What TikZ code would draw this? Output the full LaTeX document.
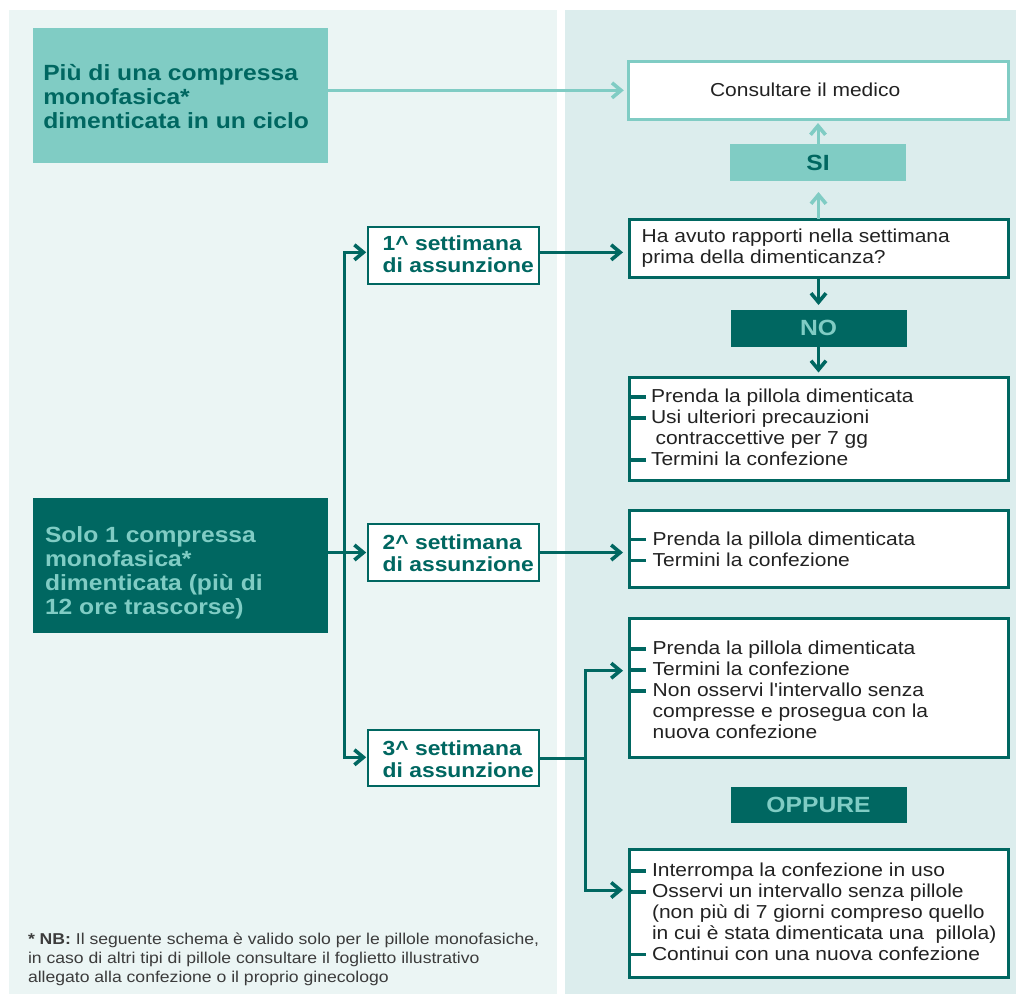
\documentclass[tikz,border=0pt]{standalone}
\usepackage{fontspec}
\setmainfont[FakeStretch=1.12, Ligatures=TeXOff]{Liberation Sans}
\usetikzlibrary{arrows.meta,calc}
\definecolor{lteal}{HTML}{80CCC4}
\definecolor{dteal}{HTML}{006761}
\definecolor{leftbg}{HTML}{EBF5F4}
\definecolor{rightbg}{HTML}{DCEDED}
\definecolor{txtgray}{HTML}{222222}
\definecolor{notegray}{HTML}{3C3C3C}
\newcommand\regfont{\fontsize{18.75pt}{21pt}\selectfont}
\newcommand\bigfont{\fontsize{22pt}{24.2pt}\selectfont\bfseries}
\newcommand\wkfont{\fontsize{20.4pt}{22.5pt}\selectfont\bfseries}
\newcommand\notefont{\fontsize{15.7pt}{19pt}\selectfont}
\newcommand\tb[2]{\parbox[t]{#1}{\raggedright #2}}
\begin{document}
\begin{tikzpicture}[x=1pt,y=-1pt,
  box/.style={rectangle, inner sep=0pt, outer sep=0pt, anchor=north west},
  darkbox/.style={box, draw=dteal, line width=3pt, fill=white},
  wkbox/.style={box, draw=dteal, line width=2pt, fill=white},
  txt/.style={inner sep=0pt, outer sep=0pt, anchor=base west},
  darr/.style={draw=dteal, line width=3pt, -{Straight Barb[length=9pt,width=15pt,line width=3.6pt]}},
  larr/.style={draw=lteal, line width=3pt, -{Straight Barb[length=9pt,width=15pt,line width=3.6pt]}},
  bullet/.style={draw=dteal, line width=3.8pt},
]
\useasboundingbox (0,0) rectangle (1016,994);
% panels
\fill[leftbg] (9,10) rectangle (556.7,994);
\fill[rightbg] (565,10) rectangle (1016,994);

% left boxes
\node[box, fill=lteal, minimum width=294.4pt, minimum height=135pt] (more) at (33.3,28.3) {};
\node[txt, text=dteal, font=\bigfont] (moreT) at (43.3,80) {\tb{280pt}{Più di una compressa\\monofasica*\\dimenticata in un ciclo}};
\node[box, fill=dteal, minimum width=294.4pt, minimum height=135pt] (solo) at (33.3,498.3) {};
\node[txt, text=lteal, font=\bigfont] (soloT) at (45,542.3) {\tb{280pt}{Solo 1 compressa\\monofasica*\\dimenticata (più di\\12 ore trascorse)}};

\node[wkbox, minimum width=171.3pt, minimum height=57.3pt] (w1) at (367.7,226.7) {};
\node[txt, text=dteal, font=\wkfont] (w1T) at (382.7,250) {\tb{170pt}{1\textasciicircum{} settimana\\di assunzione}};
\node[wkbox, minimum width=171.3pt, minimum height=56.4pt] (w2) at (367.7,524.3) {};
\node[txt, text=dteal, font=\wkfont] (w2T) at (382.7,549) {\tb{170pt}{2\textasciicircum{} settimana\\di assunzione}};
\node[wkbox, minimum width=171.3pt, minimum height=56pt] (w3) at (367.7,730.3) {};
\node[txt, text=dteal, font=\wkfont] (w3T) at (382.7,755) {\tb{170pt}{3\textasciicircum{} settimana\\di assunzione}};

% right boxes
\node[box, draw=lteal, line width=3pt, fill=white, minimum width=379.7pt, minimum height=57.3pt] (cons) at (628.8,61.7) {};
\node[txt, text=txtgray, font=\regfont] (consT) at (710,96) {Consultare il medico};
\node[box, fill=lteal, minimum width=176pt, minimum height=36.7pt, text=dteal, font=\bigfont] (si) at (730,144.3) {SI};
\node[darkbox, minimum width=379pt, minimum height=58.3pt] (ha) at (629,219) {};
\node[txt, text=txtgray, font=\regfont] (haT) at (641.7,242.7) {\tb{360pt}{Ha avuto rapporti nella settimana\\prima della dimenticanza?}};
\node[box, fill=dteal, minimum width=176pt, minimum height=36.7pt, text=lteal, font=\bigfont] (no) at (730.5,310) {NO};
\node[darkbox, minimum width=379pt, minimum height=102.5pt] (A) at (629,377.5) {};
\node[txt, text=txtgray, font=\regfont] (AT) at (651,402.3) {\tb{350pt}{Prenda la pillola dimenticata\\Usi ulteriori precauzioni\\\hspace*{4.5pt}contraccettive per 7 gg\\Termini la confezione}};
\node[darkbox, minimum width=379pt, minimum height=77.5pt] (B) at (629,510) {};
\node[txt, text=txtgray, font=\regfont] (BT) at (652.7,545) {\tb{350pt}{Prenda la pillola dimenticata\\Termini la confezione}};
\node[darkbox, minimum width=379pt, minimum height=139pt] (C) at (629,618.3) {};
\node[txt, text=txtgray, font=\regfont] (CT) at (652.7,654.3) {\tb{350pt}{Prenda la pillola dimenticata\\Termini la confezione\\Non osservi l'intervallo senza\\compresse e prosegua con la\\nuova confezione}};
\node[box, fill=dteal, minimum width=176pt, minimum height=36.6pt, text=lteal, font=\bigfont] (opp) at (730.5,786.7) {OPPURE};
\node[darkbox, minimum width=379pt, minimum height=128pt] (D) at (629,849) {};
\node[txt, text=txtgray, font=\regfont] (DT) at (652,876.7) {\tb{355pt}{Interrompa la confezione in uso\\Osservi un intervallo senza pillole\\(non più di 7 giorni compreso quello\\in cui è stata dimenticata una\ \ pillola)\\Continui con una nuova confezione}};

% footnote
\node[txt, text=notegray, font=\notefont] (note) at (28,944.5) {\tb{540pt}{\textbf{* NB:} Il seguente schema è valido solo per le pillole monofasiche,\\in caso di altri tipi di pillole consultare il foglietto illustrativo\\allegato alla confezione o il proprio ginecologo}};

% connectors
\draw[larr, shorten >=5pt] (more.east |- cons.west) -- (cons.west);
\draw[larr, shorten >=11pt] (ha.north) -- (ha.north |- si.south);
\draw[larr, shorten >=4pt] (si.north) -- (si.north |- cons.south);
\draw[darr, shorten >=5pt] (ha.south) -- (ha.south |- no.north);
\draw[darr, shorten >=5pt] (no.south) -- (no.south |- A.north);
\draw[darr, shorten >=6pt] ([yshift=3pt]w1.east) -- ([yshift=3pt]w1.east -| ha.west);
\draw[darr, shorten >=6pt] (w2.east) -- (w2.east -| B.west);
\coordinate (j1) at (585,670.7);
\coordinate (j2) at (585,890);
\draw[darr, shorten >=6pt] (w3.east) -| (j1) -- (j1 -| C.west);
\draw[darr, shorten >=6pt] (w3.east) -| (j2) -- (j2 -| D.west);
\coordinate (t1) at (344.3,252.3);
\coordinate (t3) at (344.3,757.3);
\draw[darr, shorten >=1.5pt] (t3) -- (t1) -- (t1 -| w1.west);
\draw[darr, shorten >=1.5pt] (t1) -- (t3) -- (t3 -| w3.west);
\draw[darr, shorten >=1.5pt] (solo.east |- w2.west) -- (w2.west);

% bullets
\foreach \y in {396.7,417.7,459.7,539.4,560.4,648.7,669.7,690.7,871.2,892,954.4}
  \draw[bullet] (629,\y) -- (646,\y);
\end{tikzpicture}
\end{document}
